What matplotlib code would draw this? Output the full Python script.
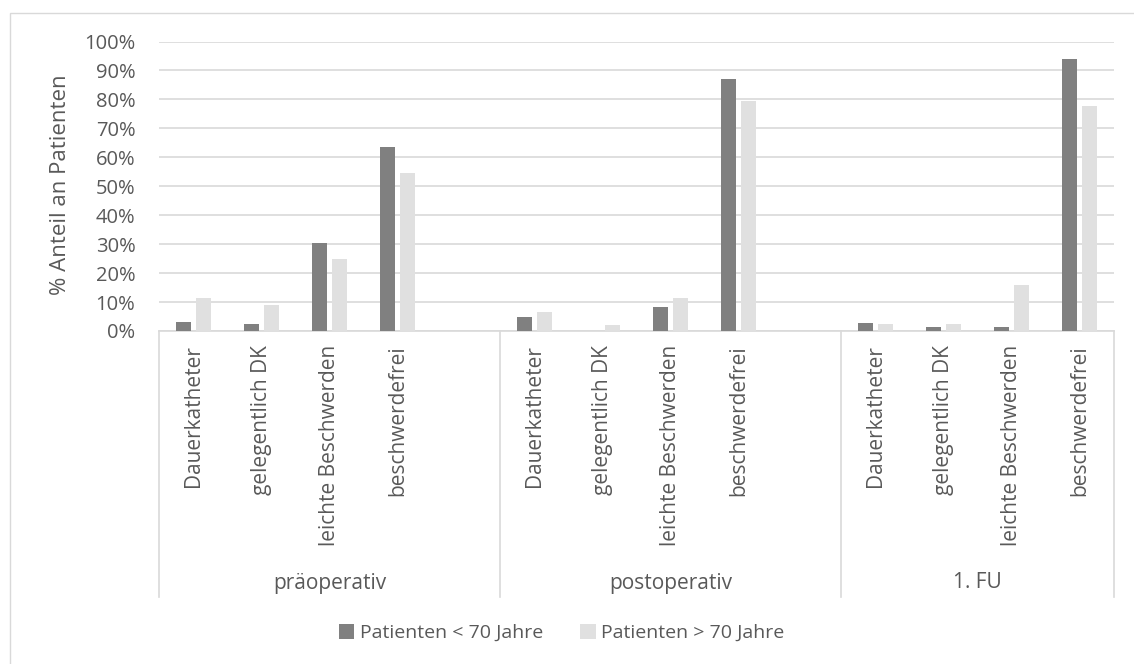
import matplotlib
matplotlib.use('Agg')
import matplotlib.pyplot as plt
import matplotlib.transforms as mtransforms
from matplotlib.patches import Patch, Rectangle

plt.rcParams['font.family'] = ['Open Sans', 'DejaVu Sans']

# Harninkontinenz nach Altersgruppe, Anteil in %
phases = ['präoperativ', 'postoperativ', '1. FU']
categories = ['Dauerkatheter', 'gelegentlich DK', 'leichte Beschwerden', 'beschwerdefrei']
under70 = [3.2, 2.3, 30.5, 63.5,
           4.7, 0.0, 8.2, 87.1,
           2.8, 1.3, 1.3, 94.0]
over70 = [11.3, 9.0, 24.9, 54.5,
          6.6, 2.1, 11.3, 79.6,
          2.5, 2.5, 15.9, 77.8]
series_names = ['Patienten < 70 Jahre', 'Patienten > 70 Jahre']

dark = '#808080'
light = '#E0E0E0'
grid = '#D9D9D9'
txt = '#595959'

W, H = 1134, 664
fig = plt.figure(figsize=(W / 100, H / 100), dpi=100)
fig.patch.set_facecolor('white')

# outer chart frame (only top and left edges fall inside the canvas)
fig.add_artist(Rectangle((9.5 / W, -1), 2, 2 - 12.5 / H, transform=fig.transFigure,
                         fill=False, edgecolor=grid, lw=1))

left, right, top, bottom = 159, 1114, 41.5, 331
ax = fig.add_axes([left / W, 1 - bottom / H, (right - left) / W, (bottom - top) / H])

# each phase gets a block of slots; the first two end with an empty slot
pos = []
for g in range(len(phases)):
    for c in range(len(categories)):
        pos.append(g * 5 + c)

bw = 0.22
off = 0.146
ax.bar([p - off for p in pos], under70, width=bw, color=dark, zorder=3)
ax.bar([p + off for p in pos], over70, width=bw, color=light, zorder=3)

ax.set_xlim(-0.5, 13.5)
ax.set_ylim(0, 100)
yt = list(range(0, 101, 10))
ax.set_yticks(yt)
ax.set_yticklabels([f'{v}%' for v in yt], color=txt, fontsize=14.5)
ax.tick_params(axis='y', length=0, pad=17)
ax.yaxis.grid(True, color=grid, lw=1.2, zorder=0)
ax.set_axisbelow(True)

ax.set_xticks(pos)
ax.set_xticklabels(categories * len(phases), rotation=90, va='top', ha='center',
                   color=txt, fontsize=15)
ax.tick_params(axis='x', length=0, pad=10)

for s in ['left', 'right', 'top']:
    ax.spines[s].set_visible(False)
ax.spines['bottom'].set_color(grid)
ax.spines['bottom'].set_linewidth(1.2)

# multi-level category axis: separators and phase labels
trans = mtransforms.blended_transform_factory(ax.transData, ax.transAxes)
sep_y = (bottom - 597) / (bottom - top)
for x in [-0.5, 4.5, 9.5, 13.5]:
    ax.plot([x, x], [0, sep_y], color=grid, lw=1.2, transform=trans, clip_on=False)
lab_y = (bottom - 583) / (bottom - top)
for g, name in enumerate(phases):
    start = g * 5 - 0.5
    end = min(g * 5 + 4.5, 13.5)
    ax.text((start + end) / 2, lab_y, name, transform=trans, ha='center', va='center',
            color=txt, fontsize=15)

fig.text(60 / W, 1 - 184.5 / H, '% Anteil an Patienten', rotation=90, ha='center',
         va='center', color=txt, fontsize=16)

handles = [Patch(facecolor=dark), Patch(facecolor=light)]
fig.legend(handles, series_names, loc='center', bbox_to_anchor=(562 / W, 1 - 633 / H),
           ncol=2, frameon=False, handlelength=0.78, handleheight=0.78,
           handletextpad=0.3, columnspacing=1.9, fontsize=14, labelcolor=txt)

fig.savefig('out.png', dpi=100)
